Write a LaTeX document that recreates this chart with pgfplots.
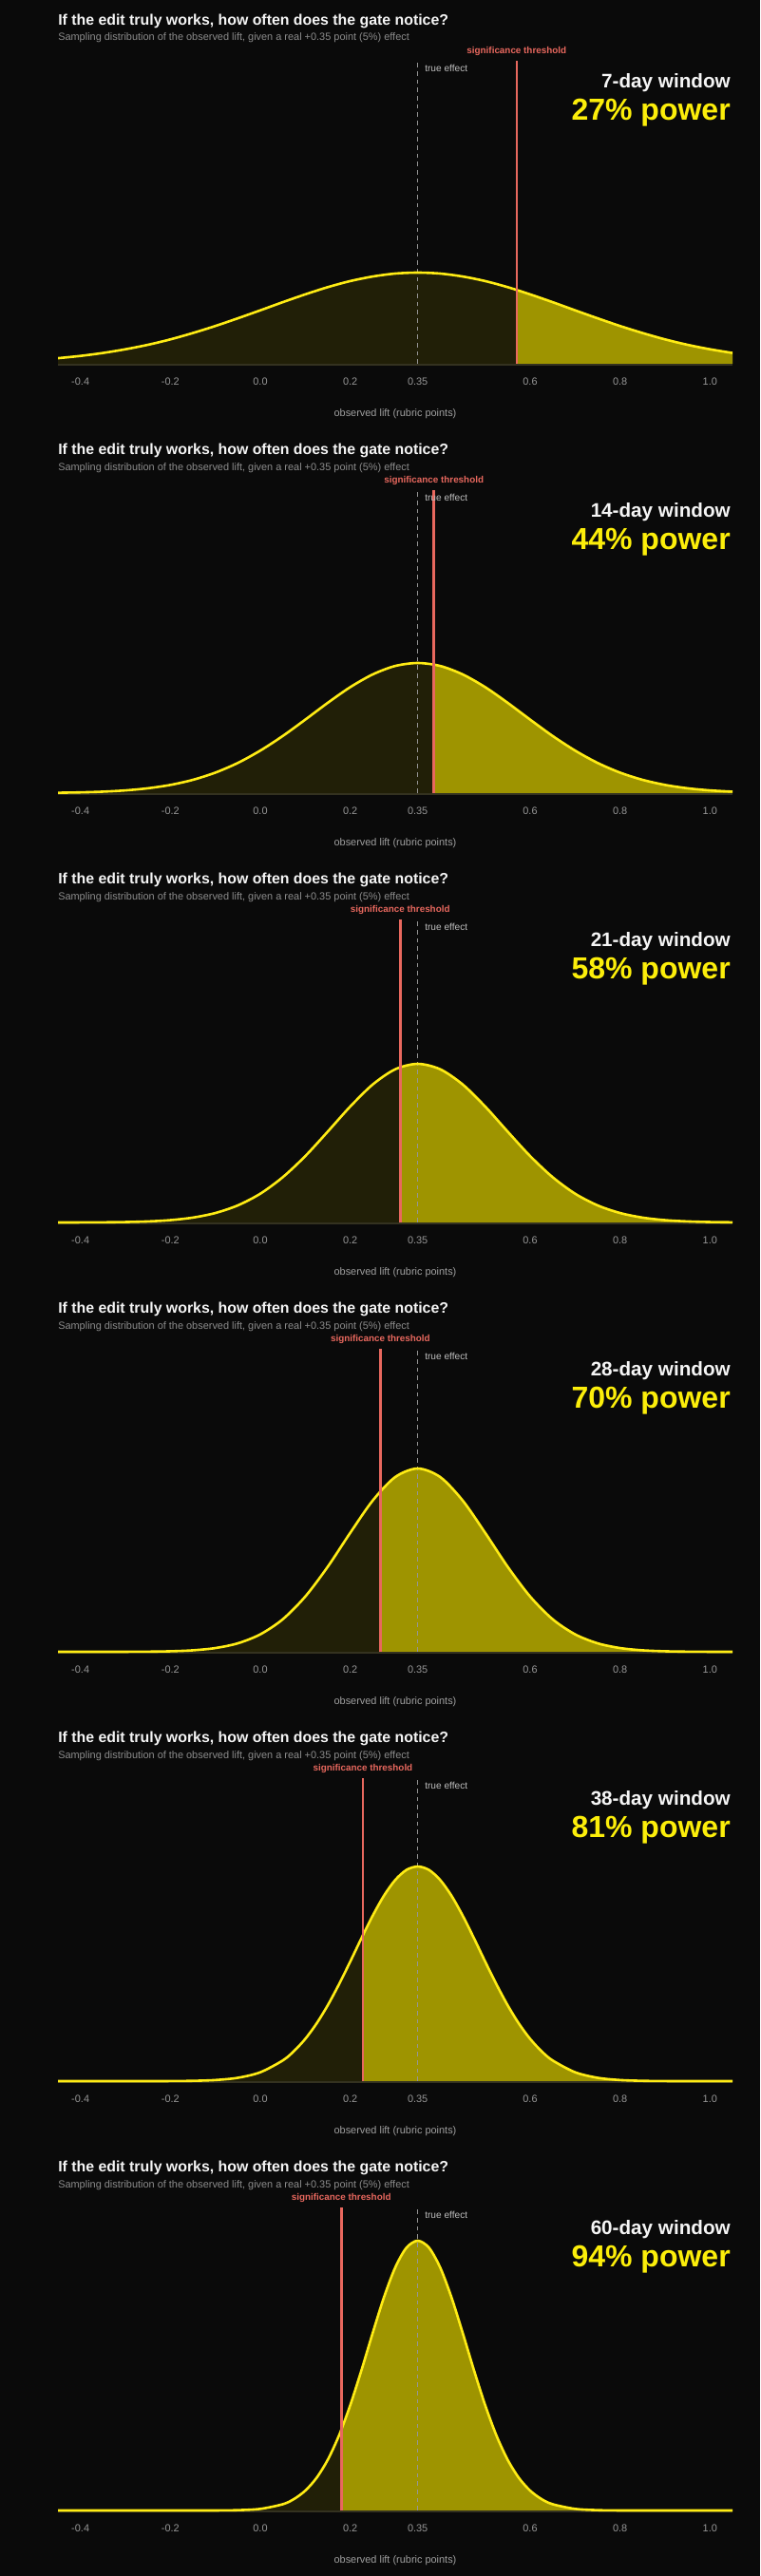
\documentclass[border=0pt]{standalone}
\usepackage{fontspec}
\setmainfont{Liberation Sans}
\usepackage{pgfplots}
\pgfplotsset{compat=1.18}
\usepackage{pgfplotstable}

\definecolor{bg}{RGB}{10,10,10}
\definecolor{titlewhite}{RGB}{245,245,245}
\definecolor{subgray}{RGB}{140,140,140}
\definecolor{tickgray}{RGB}{150,150,150}
\definecolor{labelgray}{RGB}{160,160,160}
\definecolor{truegray}{RGB}{190,190,190}
\definecolor{dashgray}{RGB}{150,150,150}
\definecolor{curveyellow}{RGB}{255,236,20}
\definecolor{poweryellow}{RGB}{252,238,10}
\definecolor{darkfill}{RGB}{33,31,7}
\definecolor{brightfill}{RGB}{158,148,0}
\definecolor{threshred}{RGB}{232,104,94}
\definecolor{baseband}{RGB}{52,50,32}

% one pixel of the 800 px wide reference
\def\px{*0.75pt}

% sampling curves, heights in pixels above the baseline
\pgfplotstableread{
x y
-0.45 5.9
-0.40 8.3
-0.35 11.4
-0.30 15.3
-0.25 20.0
-0.20 25.7
-0.15 32.4
-0.10 39.8
-0.05 47.9
0.00 56.3
0.05 64.9
0.10 73.1
0.15 80.7
0.20 87.1
0.25 91.9
0.30 95.0
0.35 96.0
0.40 95.0
0.45 91.9
0.50 87.1
0.55 80.7
0.60 73.1
0.65 64.9
0.70 56.3
0.75 47.9
0.80 39.8
0.85 32.4
0.90 25.7
0.95 20.0
1.00 15.3
1.05 11.4
}\curveA

\pgfplotstableread{
x y
-0.45 0.40
-0.40 0.81
-0.35 1.56
-0.30 2.89
-0.25 5.12
-0.20 8.65
-0.15 14.0
-0.10 21.6
-0.05 31.8
0.00 44.8
0.05 60.2
0.10 77.4
0.15 95.1
0.20 111.6
0.25 125.0
0.30 133.9
0.35 137.0
0.40 133.9
0.45 125.0
0.50 111.6
0.55 95.1
0.60 77.4
0.65 60.2
0.70 44.8
0.75 31.8
0.80 21.6
0.85 14.0
0.90 8.65
0.95 5.12
1.00 2.89
1.05 1.56
}\curveB

\pgfplotstableread{
x y
-0.45 0.02
-0.40 0.07
-0.35 0.18
-0.30 0.47
-0.25 1.11
-0.20 2.47
-0.15 5.14
-0.10 9.96
-0.05 18.0
0.00 30.3
0.05 47.7
0.10 69.9
0.15 95.7
0.20 122.1
0.25 145.3
0.30 161.3
0.35 167.0
0.40 161.3
0.45 145.3
0.50 122.1
0.55 95.7
0.60 69.9
0.65 47.7
0.70 30.3
0.75 18.0
0.80 9.96
0.85 5.14
0.90 2.47
0.95 1.11
1.00 0.47
1.05 0.18
}\curveC

\pgfplotstableread{
x y
-0.45 0.00
-0.40 0.00
-0.35 0.02
-0.30 0.06
-0.25 0.19
-0.20 0.58
-0.15 1.59
-0.10 3.96
-0.05 8.95
0.00 18.4
0.05 34.3
0.10 58.2
0.15 89.6
0.20 125.3
0.25 159.3
0.30 184.0
0.35 193.0
0.40 184.0
0.45 159.3
0.50 125.3
0.55 89.6
0.60 58.2
0.65 34.3
0.70 18.4
0.75 8.95
0.80 3.96
0.85 1.59
0.90 0.58
0.95 0.19
1.00 0.06
1.05 0.02
}\curveD

\pgfplotstableread{
x y
-0.45 0.00
-0.40 0.00
-0.35 0.00
-0.30 0.00
-0.25 0.02
-0.20 0.09
-0.15 0.34
-0.10 1.17
-0.05 3.53
0.00 9.36
0.05 21.8
0.075 31.7
0.10 44.5
0.125 60.6
0.15 79.9
0.175 102.0
0.20 125.9
0.225 150.6
0.25 174.3
0.275 195.3
0.30 211.8
0.325 222.4
0.35 226.0
0.375 222.4
0.40 211.8
0.425 195.3
0.45 174.3
0.475 150.6
0.50 125.9
0.525 102.0
0.55 79.9
0.575 60.6
0.60 44.5
0.625 31.7
0.65 21.8
0.70 9.36
0.75 3.53
0.80 1.17
0.85 0.34
0.90 0.09
0.95 0.02
1.00 0.00
1.05 0.00
}\curveE

\pgfplotstableread{
x y
-0.45 0.00
-0.40 0.00
-0.35 0.00
-0.30 0.00
-0.25 0.00
-0.20 0.00
-0.15 0.01
-0.10 0.06
-0.05 0.36
0.00 1.70
0.05 6.61
0.075 12.1
0.10 20.9
0.125 34.3
0.15 53.4
0.175 79.0
0.20 110.9
0.225 147.8
0.25 187.0
0.275 224.5
0.30 255.8
0.325 276.7
0.35 284.0
0.375 276.7
0.40 255.8
0.425 224.5
0.45 187.0
0.475 147.8
0.50 110.9
0.525 79.0
0.55 53.4
0.575 34.3
0.60 20.9
0.625 12.1
0.65 6.61
0.70 1.70
0.75 0.36
0.80 0.06
0.85 0.01
0.90 0.00
0.95 0.00
1.00 0.00
1.05 0.00
}\curveF

\pgfplotsset{
  panel/.style={
    anchor=south west,
    scale only axis,
    width={710\px},
    height={322\px},
    xmin=-0.45, xmax=1.05,
    ymin=-3, ymax=319,
    axis line style={draw=none},
    ytick=\empty,
    xtick={-0.4,-0.2,0,0.2,0.35,0.6,0.8,1.0},
    xticklabels={-0.4,-0.2,0.0,0.2,0.35,0.6,0.8,1.0},
    xtick style={draw=none},
    xticklabel style={font=\fontsize{8.2}{10}\selectfont, text=tickgray,
      anchor=center, inner sep=0pt, yshift={-16\px}},
  }
}

% #1 panel index, #2 curve table, #3 threshold, #4 window days, #5 power
\newcommand{\panel}[5]{%
  \begin{axis}[panel, at={({61\px},{(-386-452*#1)\px})}]
    % whole area under the curve, dark
    \addplot[draw=none, fill=darkfill, smooth] table {#2} \closedcycle;
    % area beyond the threshold, bright
    \begin{scope}
      \clip (axis cs:#3,-3) rectangle (axis cs:1.05,319);
      \addplot[draw=none, fill=brightfill, smooth] table {#2} \closedcycle;
    \end{scope}
    \draw[baseband, line width={2.5\px}] (axis cs:-0.45,-0.8) -- (axis cs:1.05,-0.8);
    \draw[dashgray, line width={1\px}, dash pattern=on 3.5pt off 3pt] (axis cs:0.35,0) -- (axis cs:0.35,319);
    \addplot[curveyellow, line width={2.6\px}, smooth] table {#2};
    \draw[threshred, line width={2.6\px}] (axis cs:#3,0) -- (axis cs:#3,319);
  \end{axis}
  \node[anchor=base west, inner sep=0pt, text=titlewhite, font=\bfseries\fontsize{11.9}{14}\selectfont]
    at ({61\px},{(-26.5-452*#1)\px}) {If the edit truly works, how often does the gate notice?};
  \node[anchor=base west, inner sep=0pt, text=subgray, font=\fontsize{8.2}{10}\selectfont]
    at ({61\px},{(-43-452*#1)\px}) {Sampling distribution of the observed lift, given a real +0.35 point (5\%) effect};
  \node[anchor=center, inner sep=0pt, text=threshred, font=\bfseries\fontsize{7.4}{9}\selectfont]
    at ({(61+(#3+0.45)*473.33)\px},{(-54-452*#1)\px}) {significance threshold};
  \node[anchor=west, inner sep=0pt, text=truegray, font=\fontsize{7.6}{9}\selectfont]
    at ({447\px},{(-72-452*#1)\px}) {true effect};
  \node[anchor=east, inner sep=0pt, text=titlewhite, font=\bfseries\fontsize{15.5}{18}\selectfont]
    at ({769\px},{(-87-452*#1)\px}) {#4-day window};
  \node[anchor=east, inner sep=0pt, text=poweryellow, font=\bfseries\fontsize{24}{28}\selectfont]
    at ({769\px},{(-119-452*#1)\px}) {#5\% power};
  \node[anchor=center, inner sep=0pt, text=labelgray, font=\fontsize{8.2}{10}\selectfont]
    at ({416\px},{(-436-452*#1)\px}) {observed lift (rubric points)};
}

\begin{document}
\begin{tikzpicture}
  \fill[bg] (0,0) rectangle ({800\px},{-2712\px});
  \panel{0}{\curveA}{0.57}{7}{27}
  \panel{1}{\curveB}{0.386}{14}{44}
  \panel{2}{\curveC}{0.311}{21}{58}
  \panel{3}{\curveD}{0.267}{28}{70}
  \panel{4}{\curveE}{0.228}{38}{81}
  \panel{5}{\curveF}{0.18}{60}{94}
  \pgfresetboundingbox
  \path[use as bounding box] (0,0) rectangle ({800\px},{-2712\px});
\end{tikzpicture}
\end{document}
